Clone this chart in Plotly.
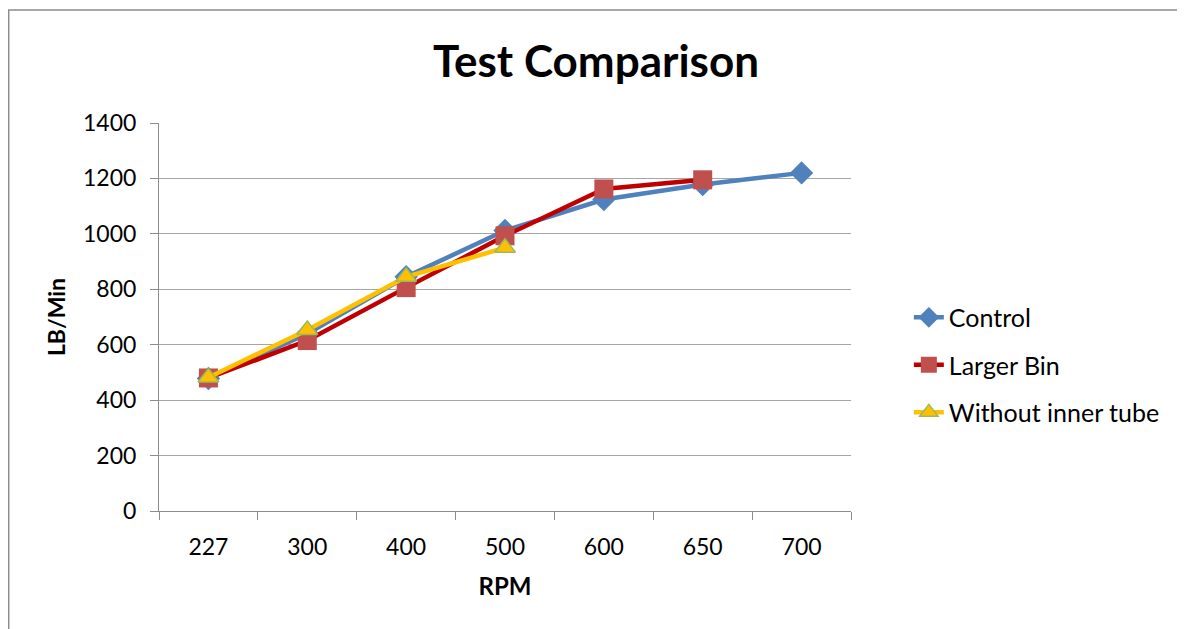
import plotly.graph_objects as go

rpm = ["227", "300", "400", "500", "600", "650", "700"]
control = [478, 640, 845, 1012, 1124, 1178, 1220]
larger_bin_rpm = ["227", "300", "400", "500", "600", "650"]
larger_bin = [480, 615, 806, 993, 1162, 1195]
no_tube_rpm = ["227", "300", "400", "500"]
no_tube = [482, 653, 845, 950]
y_ticks = [0, 200, 400, 600, 800, 1000, 1200, 1400]

FONT = "Lato, 'Open Sans', sans-serif"

fig = go.Figure()
fig.add_trace(go.Scatter(
    x=rpm, y=control, name="Control", mode="lines+markers", legendgroup="a",
    line=dict(color="#4F81BD", width=4.5),
    marker=dict(symbol="diamond", size=18, color="#4F81BD", line=dict(width=0)),
))
fig.add_trace(go.Scatter(
    x=larger_bin_rpm, y=larger_bin, name="Larger Bin", mode="lines+markers", legendgroup="b",
    line=dict(color="#C00000", width=4.5),
    marker=dict(symbol="square", size=19, color="#C0504D", line=dict(width=0)),
))
fig.add_trace(go.Scatter(
    x=no_tube_rpm, y=no_tube, name="Without inner tube", mode="lines+markers", legendgroup="c",
    line=dict(color="#FFC000", width=4.5),
    marker=dict(symbol="triangle-up", size=18, color="#FFC000", line=dict(width=1.5, color="#9BBB59")),
))

W, H = 1177, 621
L, R, T, B = 151, 334, 115, 118

fig.update_layout(
    width=W, height=H,
    margin=dict(l=L, r=R, t=T, b=B),
    paper_bgcolor="white", plot_bgcolor="white",
    font=dict(family=FONT, size=23, color="black"),
    title=dict(text="<b>Test Comparison</b>", x=588 / W, xanchor="center",
               y=1 - 54 / H, yanchor="middle", font=dict(size=44, family=FONT)),
    legend=dict(x=1.0836, xanchor="left", y=0.376, yanchor="middle",
                font=dict(size=25, family=FONT), tracegroupgap=12,
                bgcolor="rgba(0,0,0,0)"),
    shapes=[dict(type="rect", xref="paper", yref="paper",
                 x0=-0.2172, x1=1.4792, y0=-0.35, y1=1.2912,
                 line=dict(color="#8c8c8c", width=1.5), fillcolor="rgba(0,0,0,0)",
                 layer="below")],
)

fig.update_xaxes(
    type="category", categoryorder="array", categoryarray=rpm,
    range=[-0.5, 6.5],
    showline=True, linecolor="#8c8c8c", linewidth=1,
    ticks="outside", tickson="boundaries", ticklen=8, tickcolor="#8c8c8c",
    ticklabelstandoff=15,
    showgrid=False, tickfont=dict(size=23),
    title=dict(text="<b>RPM</b>", font=dict(size=24), standoff=19),
)
fig.update_yaxes(
    range=[0, 1400], tickvals=y_ticks,
    showline=True, linecolor="#8c8c8c", linewidth=1,
    ticks="outside", ticklen=8, tickcolor="#8c8c8c",
    ticklabelstandoff=9,
    showgrid=True, gridcolor="#a6a6a6", gridwidth=1,
    zeroline=False, tickfont=dict(size=23),
    title=dict(text="<b>LB/Min</b>", font=dict(size=23), standoff=10),
)

fig.write_html("out.html")
